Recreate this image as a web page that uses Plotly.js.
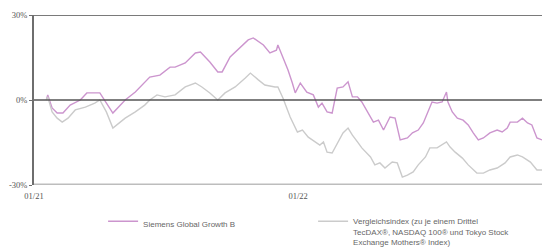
<!DOCTYPE html>
<html>
<head>
<meta charset="utf-8">
<script src="https://cdn.plot.ly/plotly-3.0.1.min.js"></script>
<style>html,body{margin:0;padding:0;background:#fff;overflow:hidden;}#chart{width:542px;height:262px;}</style>
</head>
<body>
<div id="chart"></div>
<script>
const fundName = "Siemens Global Growth B";
const indexName = "Vergleichsindex (zu je einem Drittel<br>TecDAX®, NASDAQ 100® und Tokyo Stock<br>Exchange Mothers® Index)";

const fundDates = ["2021-01-18","2021-01-20","2021-01-26","2021-02-02","2021-02-10","2021-02-20","2021-03-06","2021-03-15","2021-04-02","2021-04-11","2021-04-20","2021-05-07","2021-05-21","2021-06-10","2021-06-24","2021-07-08","2021-07-15","2021-07-29","2021-08-12","2021-08-19","2021-09-01","2021-09-12","2021-09-18","2021-09-29","2021-10-13","2021-10-24","2021-10-31","2021-11-07","2021-11-14","2021-11-23","2021-12-02","2021-12-04","2021-12-14","2021-12-18","2021-12-24","2021-12-28","2022-01-04","2022-01-13","2022-01-22","2022-01-29","2022-02-03","2022-02-10","2022-02-17","2022-02-24","2022-03-04","2022-03-11","2022-03-17","2022-03-24","2022-03-30","2022-04-08","2022-04-15","2022-04-22","2022-04-29","2022-05-08","2022-05-15","2022-05-22","2022-06-01","2022-06-08","2022-06-16","2022-06-23","2022-06-30","2022-07-05","2022-07-12","2022-07-19","2022-07-25","2022-07-27","2022-08-02","2022-08-09","2022-08-17","2022-08-24","2022-08-31","2022-09-07","2022-09-14","2022-09-23","2022-10-03","2022-10-10","2022-10-17","2022-10-21","2022-10-31","2022-11-07","2022-11-14","2022-11-20","2022-11-27","2022-12-04"];
const fundValues = [0.0,1.8,-2.8,-4.6,-4.6,-1.8,0.0,2.5,2.5,-1.1,-4.6,0.0,2.8,8.1,8.8,11.6,11.6,13.1,16.6,16.9,13.4,9.9,9.9,15.2,18.4,21.2,21.9,20.5,19.4,16.6,17.6,19.4,13.1,10.6,6.0,2.5,6.0,2.8,1.8,-2.5,-1.1,-4.2,-4.6,4.2,4.6,6.4,1.1,1.1,-0.7,-4.6,-7.8,-7.1,-10.6,-6.0,-6.4,-14.1,-13.4,-11.6,-10.6,-8.1,-3.5,-0.7,-1.1,-0.7,2.8,-0.7,-4.2,-6.4,-7.1,-8.8,-11.6,-14.1,-13.4,-11.6,-10.6,-11.3,-9.9,-7.8,-7.8,-6.4,-8.1,-8.8,-13.4,-14.1];

const indexDates = ["2021-01-18","2021-01-20","2021-01-26","2021-02-02","2021-02-09","2021-02-17","2021-02-27","2021-03-13","2021-03-26","2021-04-02","2021-04-11","2021-04-20","2021-05-07","2021-05-21","2021-06-03","2021-06-10","2021-06-20","2021-07-01","2021-07-15","2021-07-29","2021-08-12","2021-08-21","2021-09-01","2021-09-12","2021-09-22","2021-10-06","2021-10-20","2021-10-27","2021-11-07","2021-11-16","2021-11-30","2021-12-04","2021-12-11","2021-12-21","2021-12-31","2022-01-07","2022-01-15","2022-01-25","2022-01-31","2022-02-05","2022-02-10","2022-02-17","2022-02-25","2022-03-04","2022-03-11","2022-03-17","2022-03-24","2022-03-30","2022-04-11","2022-04-17","2022-04-24","2022-05-01","2022-05-11","2022-05-18","2022-05-25","2022-06-01","2022-06-09","2022-06-16","2022-06-26","2022-07-02","2022-07-12","2022-07-19","2022-07-25","2022-07-30","2022-08-06","2022-08-16","2022-08-24","2022-09-05","2022-09-14","2022-09-23","2022-10-03","2022-10-14","2022-10-21","2022-10-31","2022-11-07","2022-11-18","2022-11-27","2022-12-04"];
const indexValues = [0.0,1.1,-4.2,-6.4,-7.8,-6.4,-3.5,-2.5,-1.1,0.0,-4.2,-9.9,-6.4,-4.2,-1.8,0.0,1.8,1.1,1.8,4.6,6.0,4.6,2.5,0.0,2.5,4.6,7.8,9.5,7.1,5.3,4.6,4.6,0.7,-6.0,-11.3,-10.6,-13.1,-14.8,-15.9,-14.8,-18.4,-18.7,-14.8,-11.6,-9.9,-12.4,-14.8,-16.9,-20.1,-22.9,-22.2,-24.0,-21.9,-22.2,-27.2,-26.5,-25.4,-22.9,-20.1,-16.9,-16.9,-15.9,-14.8,-16.6,-18.4,-20.5,-22.9,-25.8,-25.8,-24.7,-24.0,-22.2,-20.1,-19.4,-20.1,-21.9,-24.7,-24.7];

const yTickVals = [-30, 0, 30];
const yTickText = ["-30%", "0%", "30%"];
const xTickVals = ["2021-01-01", "2022-01-01"];
const xTickText = ["01/21", "01/22"];

const traces = [
  {x: fundDates, y: fundValues, type: "scatter", mode: "lines", name: fundName,
   line: {color: "#cc95ce", width: 1.4}},
  {x: indexDates, y: indexValues, type: "scatter", mode: "lines", name: indexName,
   line: {color: "#cbcbcb", width: 1.4}}
];

const layout = {
  width: 542, height: 262,
  margin: {l: 34, r: 0, t: 15, b: 0},
  paper_bgcolor: "#fff", plot_bgcolor: "#fff",
  showlegend: true,
  legend: {orientation: "h", x: 0.136, xanchor: "left", y: 0.2126, yanchor: "top",
    entrywidth: 165, entrywidthmode: "pixels", itemwidth: 30,
    font: {family: "Liberation Sans, Arial, sans-serif", size: 8, color: "#666"},
    valign: "top", bgcolor: "rgba(0,0,0,0)"},
  xaxis: {type: "date", range: ["2021-01-01", "2022-12-04"],
    tickmode: "array", tickvals: xTickVals, ticktext: xTickText,
    showgrid: false, zeroline: false, showline: false,
    ticks: "outside", ticklen: 3, tickcolor: "rgba(0,0,0,0)",
    tickfont: {family: "Liberation Serif, Times New Roman, serif", size: 8.5, color: "#555"}},
  yaxis: {domain: [0.3117, 1], range: [-30, 30], tickmode: "array", tickvals: yTickVals, ticktext: yTickText,
    showgrid: false, zeroline: false, showline: true, linecolor: "#6e6e6e", linewidth: 2,
    ticks: "outside", ticklen: 3, tickcolor: "#6e6e6e", tickwidth: 1,
    tickfont: {family: "Liberation Serif, Times New Roman, serif", size: 8.5, color: "#555"}},
  shapes: [
    {type: "line", xref: "paper", yref: "y", x0: 0, x1: 1, y0: 30, y1: 30,
     line: {color: "#7a7a7a", width: 2}},
    {type: "line", xref: "paper", yref: "y", x0: 0, x1: 1, y0: 0, y1: 0,
     line: {color: "#555", width: 1.3}},
    {type: "line", xref: "paper", yref: "y", x0: 0, x1: 1, y0: -30, y1: -30,
     line: {color: "#bdbdbd", width: 3}}
  ]
};

Plotly.newPlot("chart", traces, layout, {staticPlot: true, displayModeBar: false});
</script>
</body>
</html>
